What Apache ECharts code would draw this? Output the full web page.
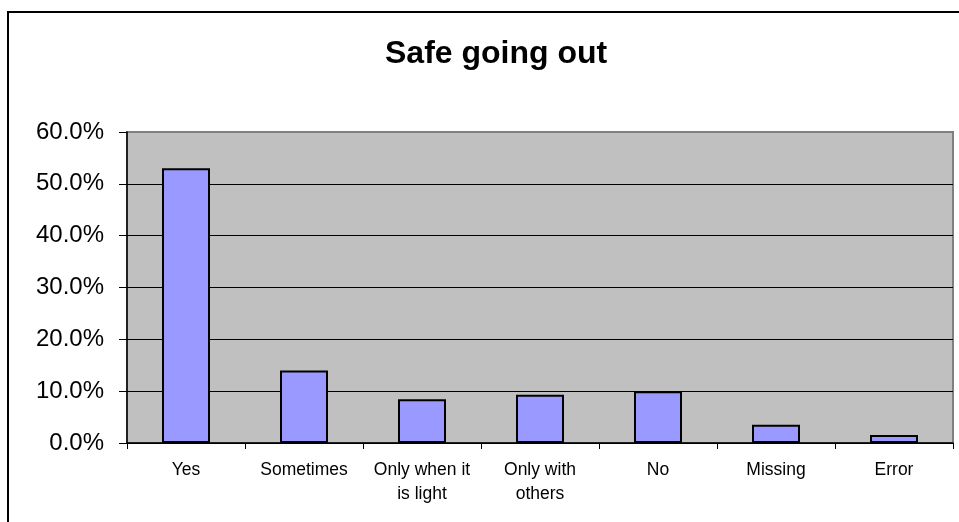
<!DOCTYPE html>
<html>
<head>
<meta charset="utf-8">
<script src="https://cdn.jsdelivr.net/npm/echarts@6/dist/echarts.min.js"></script>
<style>
  html, body { margin: 0; padding: 0; background: #fff; }
  #chart { width: 959px; height: 522px; }
</style>
</head>
<body>
<div id="chart"></div>
<script>
const categories = ["Yes", "Sometimes", "Only when it\nis light", "Only with\nothers", "No", "Missing", "Error"];
const shares = [53.0, 14.0, 8.45, 9.3, 10.0, 3.5, 1.55];

const chart = echarts.init(document.getElementById("chart"));
const font = "'Liberation Sans', Arial, sans-serif";

chart.setOption({
  animation: false,
  title: {
    text: "Safe going out",
    left: 380,
    top: 33,
    textStyle: { fontFamily: font, fontSize: 32, fontWeight: "bold", color: "#000" },
  },
  graphic: [
    {
      type: "rect",
      shape: { x: 8, y: 12, width: 1000, height: 1000 },
      style: { fill: "none", stroke: "#000", lineWidth: 2 },
      silent: true,
    },
  ],
  grid: {
    left: 127,
    top: 132,
    right: 6,
    bottom: 79,
    show: true,
    backgroundColor: "#c0c0c0",
    borderColor: "#808080",
    borderWidth: 2,
  },
  xAxis: {
    type: "category",
    data: categories,
    axisLine: { lineStyle: { color: "#000", width: 1.5 } },
    axisTick: { show: true, length: 6, lineStyle: { color: "#000" } },
    axisLabel: {
      color: "#000",
      fontFamily: font,
      fontSize: 17.5,
      lineHeight: 24,
      margin: 15,
      interval: 0,
    },
  },
  yAxis: {
    type: "value",
    min: 0,
    max: 60,
    interval: 10,
    axisLine: { show: true, lineStyle: { color: "#000", width: 1.5 } },
    axisTick: { show: true, length: 8, lineStyle: { color: "#000" } },
    axisLabel: {
      color: "#000",
      fontFamily: font,
      fontSize: 24,
      margin: 23,
      formatter: (v) => v.toFixed(1) + "%",
    },
    splitLine: {
      show: true,
      lineStyle: { color: ["#000", "#000", "#000", "#000", "#000", "#000", "#808080"], width: 1 },
    },
  },
  series: [
    {
      type: "bar",
      data: shares,
      barWidth: 48,
      itemStyle: { color: "#9999ff", borderColor: "#000", borderWidth: 2 },
    },
  ],
});
</script>
</body>
</html>
